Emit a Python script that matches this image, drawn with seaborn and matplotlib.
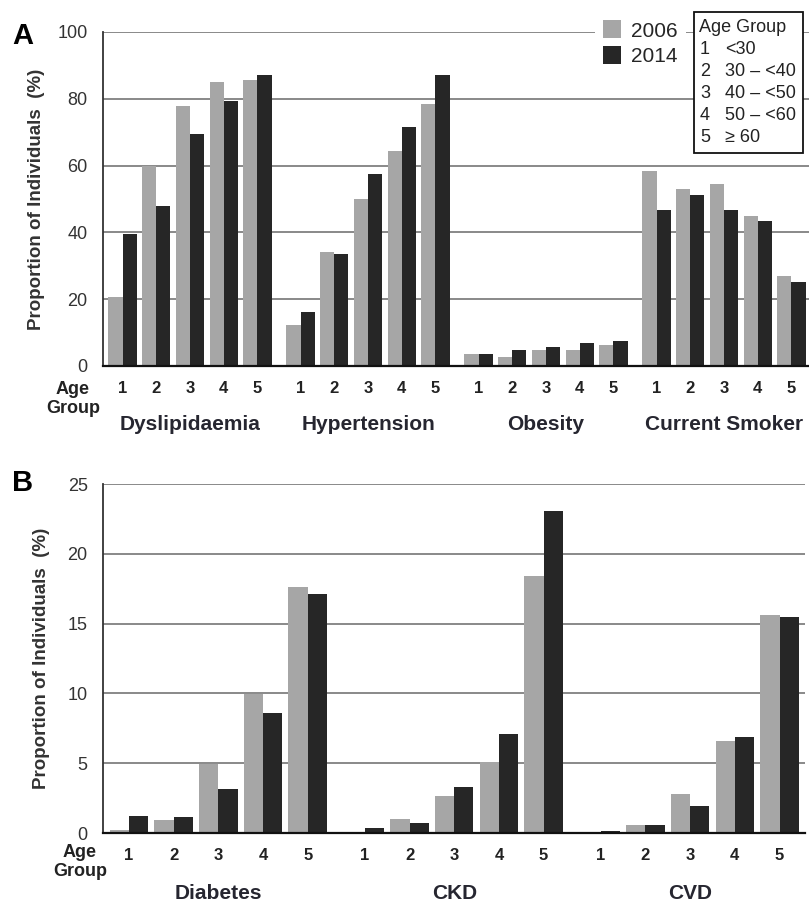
import numpy as np
import pandas as pd
import matplotlib
matplotlib.use("Agg")
import matplotlib.pyplot as plt
from matplotlib.patches import Rectangle
import seaborn as sns

# ---------------- data ----------------
years = ["2006", "2014"]
age_groups = ["1", "2", "3", "4", "5"]
age_ranges = ["<30", "30 \u2013 <40", "40 \u2013 <50", "50 \u2013 <60", "\u2265 60"]

cats_a = ["Dyslipidaemia", "Hypertension", "Obesity", "Current Smoker"]
dysl_2006 = [20.6, 60.0, 77.9, 84.9, 85.5]
dysl_2014 = [39.5, 47.8, 69.5, 79.4, 87.2]
hyp_2006 = [12.4, 34.0, 50.0, 64.4, 78.3]
hyp_2014 = [16.1, 33.5, 57.4, 71.7, 87.1]
obes_2006 = [3.5, 2.8, 4.7, 4.7, 6.3]
obes_2014 = [3.5, 4.7, 5.8, 7.0, 7.5]
smok_2006 = [58.4, 52.9, 54.6, 45.0, 26.9]
smok_2014 = [46.8, 51.2, 46.8, 43.5, 25.1]

cats_b = ["Diabetes", "CKD", "CVD"]
diab_2006 = [0.24, 0.95, 4.97, 9.98, 17.6]
diab_2014 = [1.24, 1.12, 3.15, 8.6, 17.1]
ckd_2006 = [0.05, 0.98, 2.67, 5.1, 18.4]
ckd_2014 = [0.33, 0.72, 3.3, 7.1, 23.1]
cvd_2006 = [0.03, 0.57, 2.8, 6.57, 15.6]
cvd_2014 = [0.17, 0.55, 1.9, 6.88, 15.5]

series_a = {"Dyslipidaemia": (dysl_2006, dysl_2014),
            "Hypertension": (hyp_2006, hyp_2014),
            "Obesity": (obes_2006, obes_2014),
            "Current Smoker": (smok_2006, smok_2014)}
series_b = {"Diabetes": (diab_2006, diab_2014),
            "CKD": (ckd_2006, ckd_2014),
            "CVD": (cvd_2006, cvd_2014)}

# ---------------- style ----------------
C06 = "#a6a6a6"
C14 = "#262626"
GRID = "#808080"
GAP = 1.28                      # spacing between last and first slot of groups
STRIDE = len(age_groups) - 1 + GAP

sns.set_style("white")
plt.rcParams["font.family"] = ["Liberation Sans", "DejaVu Sans"]

W, H = 809, 905
fig = plt.figure(figsize=(W / 100, H / 100), dpi=100)


def make_df(cats, series):
    rows = []
    for g, cat in enumerate(cats):
        for yi, yr in enumerate(years):
            for a, v in enumerate(series[cat][yi]):
                rows.append({"pos": round(g * STRIDE + a, 4), "value": v,
                             "Year": yr, "cat": cat, "age": age_groups[a]})
    return pd.DataFrame(rows)


def fax(left, top, right, bottom):
    return fig.add_axes([left / W, 1 - bottom / H, (right - left) / W, (bottom - top) / H])


def style_axes(ax, df, cats, ymax, ystep, xl, xr, cat_off, tickpad):
    ax.set_ylim(0, ymax)
    ax.set_yticks(np.arange(0, ymax + 0.01, ystep))
    ax.set_yticklabels([f"{int(t)}" for t in np.arange(0, ymax + 0.01, ystep)],
                       fontsize=13, color="#333333")
    last = (len(cats) - 1) * STRIDE + len(age_groups) - 1
    ax.set_xlim(-xl, last + xr)
    pos = sorted(df["pos"].unique())
    ax.set_xticks(pos)
    ax.set_xticklabels(age_groups * len(cats), fontsize=12, fontweight="bold",
                       color="#222222")
    ax.tick_params(axis="both", length=0)
    ax.tick_params(axis="y", pad=11)
    ax.tick_params(axis="x", pad=tickpad)
    ax.set_xlabel("")
    ax.yaxis.grid(True, color=GRID, linewidth=1.3)
    ax.xaxis.grid(False)
    ax.set_axisbelow(True)
    for s in ["top", "right"]:
        ax.spines[s].set_visible(False)
    ax.spines["left"].set_color("#333333")
    ax.spines["left"].set_linewidth(1.3)
    ax.spines["bottom"].set_color("#111111")
    ax.spines["bottom"].set_linewidth(1.6)
    for g, cat in enumerate(cats):
        cx = g * STRIDE + (len(age_groups) - 1) / 2
        ax.annotate(cat, xy=(cx, 0), xycoords=ax.get_xaxis_transform(),
                    xytext=(0, -cat_off), textcoords="offset pixels",
                    ha="center", va="center", fontsize=15, fontweight="bold",
                    color="#262630")


# ---------------- panel A ----------------
dfA = make_df(cats_a, series_a)
axA = fax(103, 32, 809, 366)
sns.barplot(data=dfA, x="pos", y="value", hue="Year", hue_order=years,
            palette=[C06, C14], native_scale=True, width=0.84, errorbar=None,
            saturation=1, linewidth=0, ax=axA)
style_axes(axA, dfA, cats_a, 100, 20, 0.58, 0.52, 58, 11)
axA.set_ylabel("Proportion of Individuals  (%)", fontsize=13.5, fontweight="bold",
               color="#333333", va="center")
axA.yaxis.set_label_coords((37 - 103) / 706, 0.5)

handles, labels = axA.get_legend_handles_labels()
axA.legend(handles, labels, loc="upper left",
           bbox_to_anchor=(595 / W, 1 - 12 / H), bbox_transform=fig.transFigure,
           borderaxespad=0, frameon=True, facecolor="white", edgecolor="none",
           framealpha=1, fontsize=15, handlelength=0.87, handleheight=0.96,
           labelspacing=0.25, handletextpad=0.45, borderpad=0.4, fancybox=False)

# Age group key box
box = Rectangle((694 / W, 1 - 153 / H), (803 - 694) / W, (153 - 12) / H,
                transform=fig.transFigure, facecolor="white", edgecolor="#111111",
                linewidth=1.3, zorder=5)
fig.add_artist(box)
fig.text(699 / W, 1 - 27 / H, "Age Group", ha="left", va="center", fontsize=13,
         color="#222222", zorder=6)
for i, (g, r) in enumerate(zip(age_groups, age_ranges)):
    yc = 49 + 22 * i
    fig.text(700 / W, 1 - yc / H, g, ha="left", va="center", fontsize=13,
             color="#222222", zorder=6)
    fig.text(725 / W, 1 - yc / H, r, ha="left", va="center", fontsize=13,
             color="#222222", zorder=6)

fig.text(73 / W, 1 - 399 / H, "Age\nGroup", ha="center", va="center", fontsize=13,
         fontweight="bold", color="#222222", linespacing=1.1)
fig.text(12 / W, 1 - 36 / H, "A", ha="left", va="center", fontsize=21,
         fontweight="bold", color="black")

# ---------------- panel B ----------------
dfB = make_df(cats_b, series_b)
axB = fax(103, 484, 805, 833)
sns.barplot(data=dfB, x="pos", y="value", hue="Year", hue_order=years,
            palette=[C06, C14], native_scale=True, width=0.86, errorbar=None,
            saturation=1, linewidth=0, legend=False, ax=axB)
style_axes(axB, dfB, cats_b, 25, 5, 0.58, 0.57, 60, 11)
axB.set_ylabel("Proportion of Individuals  (%)", fontsize=13.5, fontweight="bold",
               color="#333333", va="center")
axB.yaxis.set_label_coords((42 - 103) / 702, 0.5)

fig.text(80 / W, 1 - 862 / H, "Age\nGroup", ha="center", va="center", fontsize=13,
         fontweight="bold", color="#222222", linespacing=1.1)
fig.text(12 / W, 1 - 483 / H, "B", ha="left", va="center", fontsize=21,
         fontweight="bold", color="black")

fig.savefig("out.png", dpi=100)
